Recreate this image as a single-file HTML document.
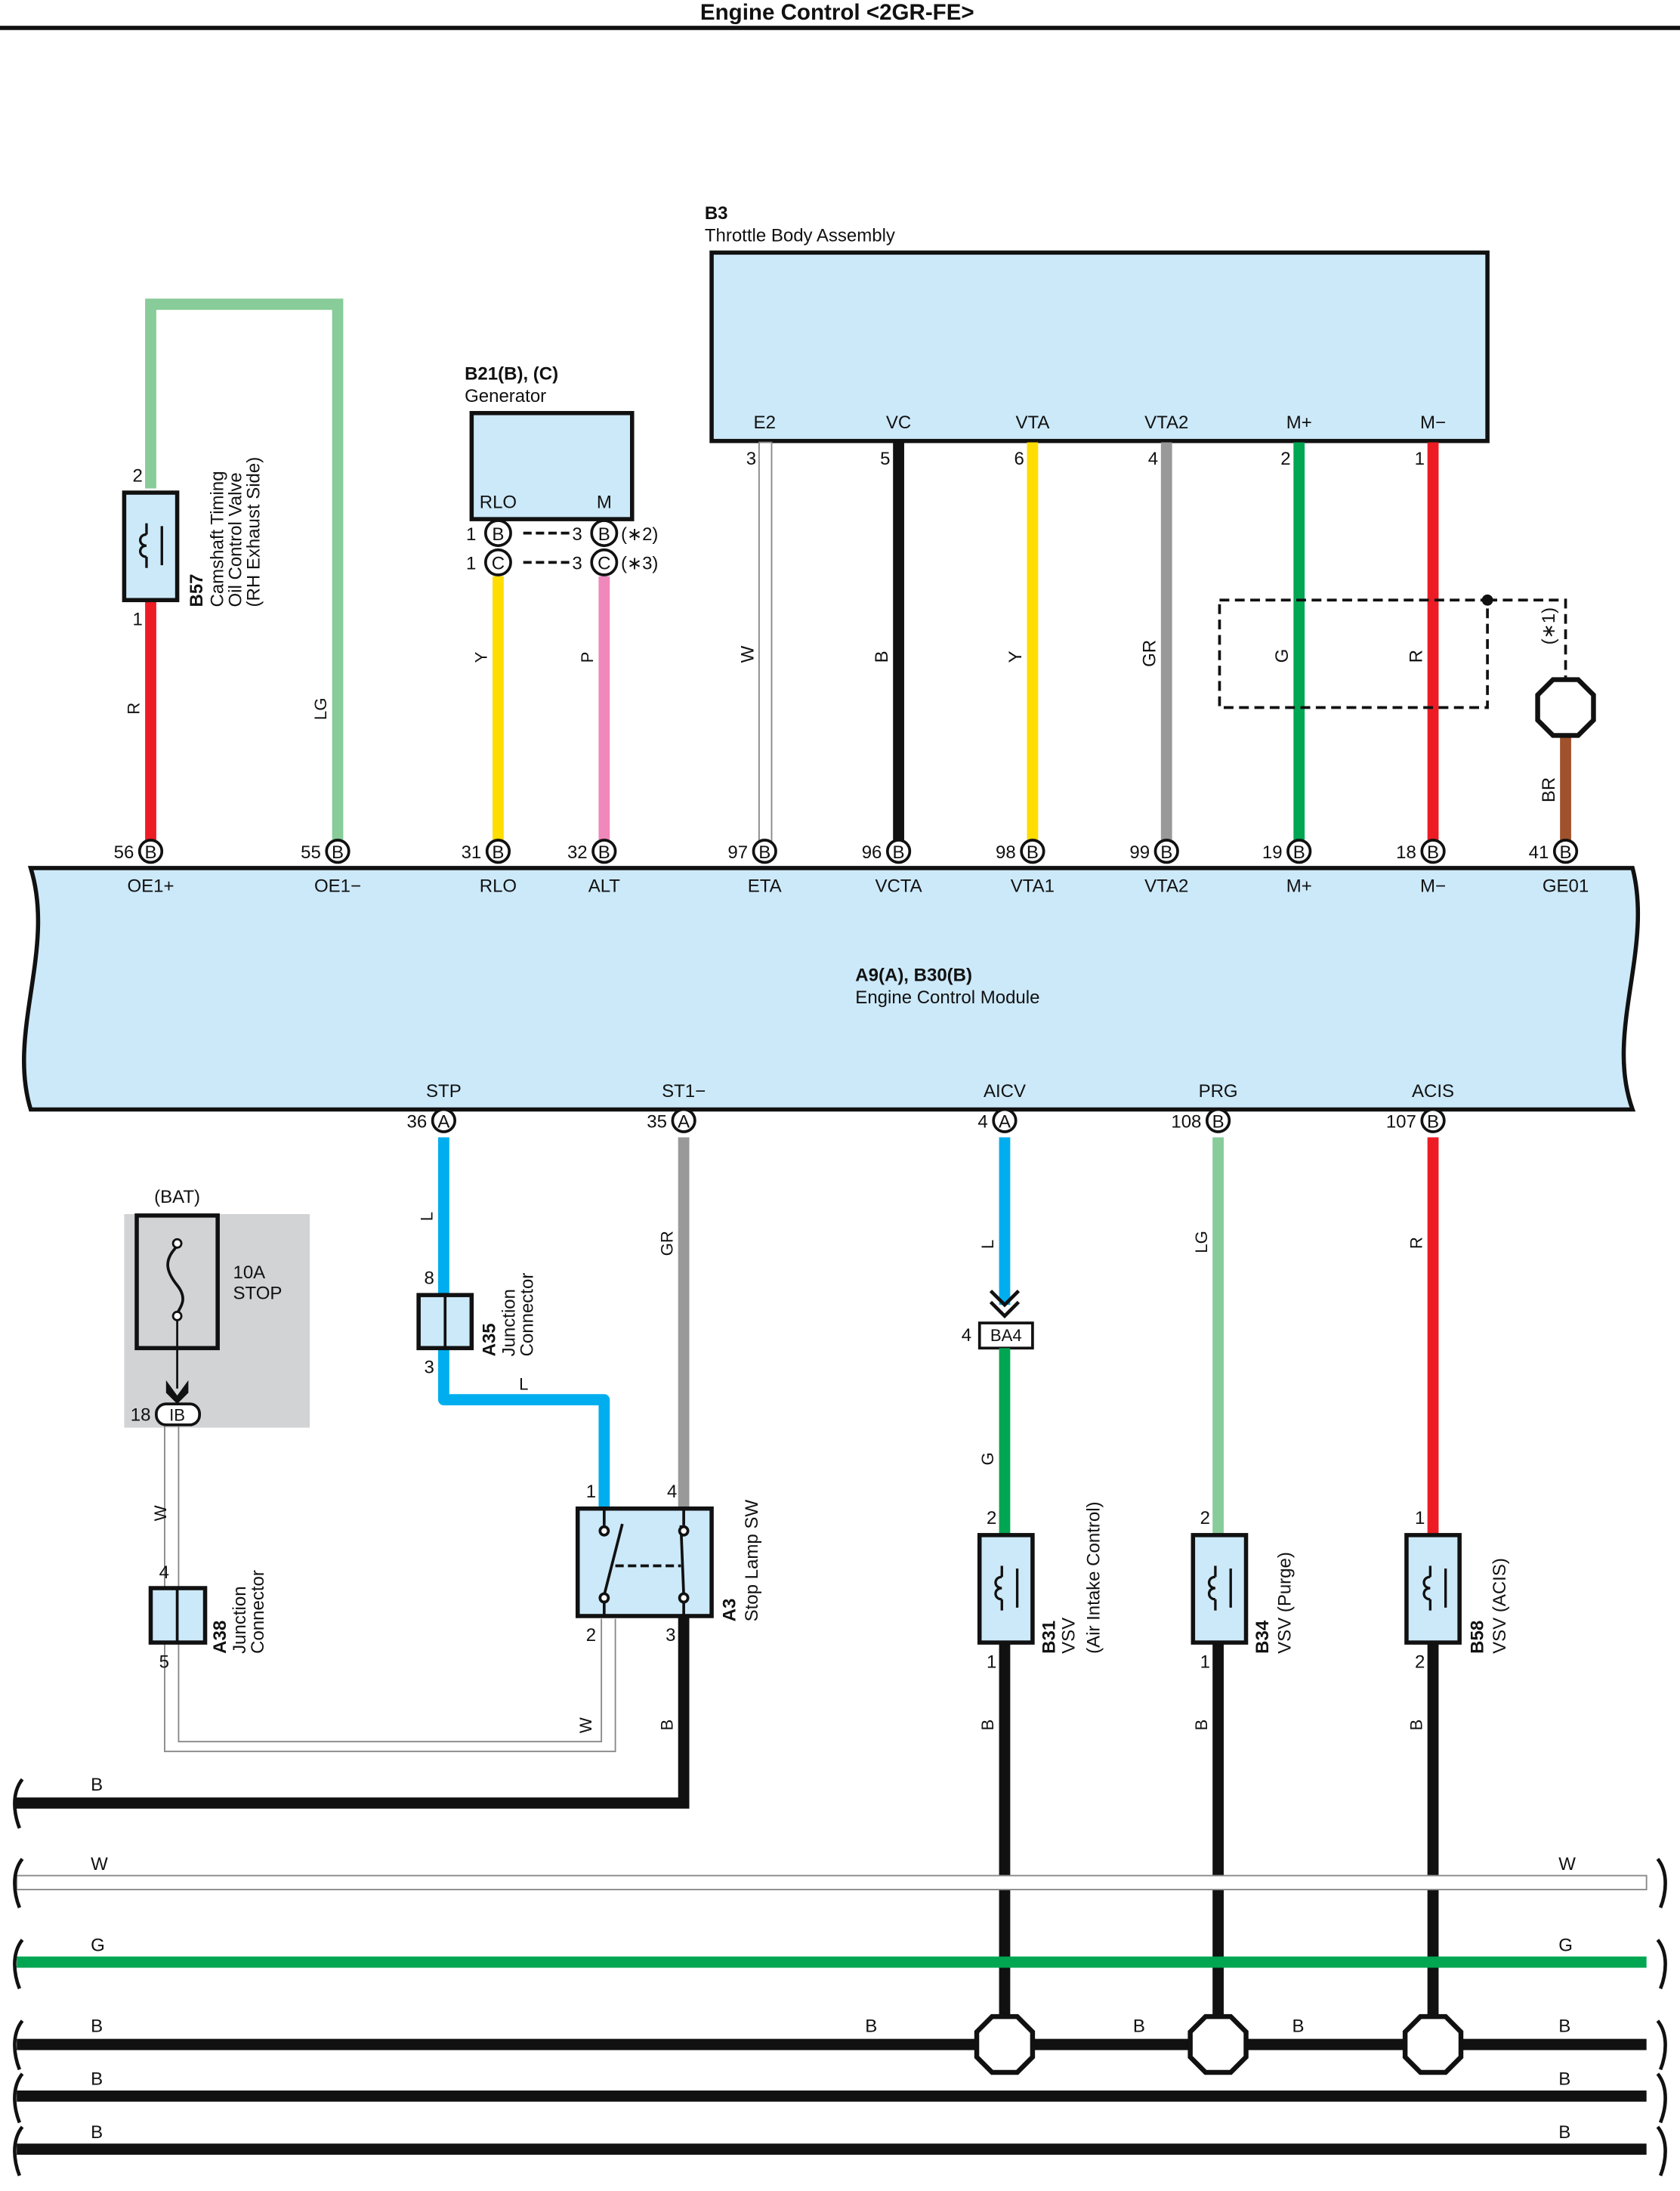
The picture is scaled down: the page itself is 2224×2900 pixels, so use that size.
<!DOCTYPE html>
<html><head><meta charset="utf-8"><style>
html,body{margin:0;padding:0;background:#fff}
svg{display:block}
text{font-family:"Liberation Sans",sans-serif;font-size:13px;fill:#111}
.b{font-weight:bold}
.s{font-size:12px}
</style></head><body>
<svg width="2224" height="2900" viewBox="0 0 1204 1570" preserveAspectRatio="none" xmlns="http://www.w3.org/2000/svg">
<defs>
<g id="coil"><path d="M-5,-8 c-6,0 -6,8 0,8 c-6,0 -6,8 0,8 M-5,-8 l0,-8 M-5,8 l0,8 M6,-14 l0,28" fill="none" stroke="#111" stroke-width="1.8"/></g>
<g id="oct"><polygon points="-9,-20 9,-20 20,-9 20,9 9,20 -9,20 -20,9 -20,-9" fill="#fff" stroke="#111" stroke-width="3.5"/></g>
</defs>
<text x="600" y="14" text-anchor="middle" class="b" style="font-size:16px">Engine Control &lt;2GR-FE&gt;</text>
<line x1="0" y1="20" x2="1204" y2="20" stroke="#111" stroke-width="3"/>

<text x="505" y="157" class="b">B3</text>
<text x="505" y="173">Throttle Body Assembly</text>
<rect x="510" y="181" width="556" height="135" fill="#cce9f9" stroke="#111" stroke-width="3"/>
<g text-anchor="middle">
<text x="548" y="307">E2</text><text x="644" y="307">VC</text><text x="740" y="307">VTA</text><text x="836" y="307">VTA2</text><text x="931" y="307">M+</text><text x="1027" y="307">M−</text>
</g>
<g text-anchor="end">
<text x="542" y="333">3</text><text x="638" y="333">5</text><text x="734" y="333">6</text><text x="830" y="333">4</text><text x="925" y="333">2</text><text x="1021" y="333">1</text>
</g>
<rect x="544" y="317" width="9" height="288" fill="#fff" stroke="#888" stroke-width="1"/>
<line x1="644" y1="317" x2="644" y2="603" stroke="#111" stroke-width="8"/>
<line x1="740" y1="317" x2="740" y2="603" stroke="#ffdd00" stroke-width="8"/>
<line x1="836" y1="317" x2="836" y2="603" stroke="#999" stroke-width="8"/>
<line x1="931" y1="317" x2="931" y2="603" stroke="#00a651" stroke-width="8"/>
<line x1="1027" y1="317" x2="1027" y2="603" stroke="#ed1c24" stroke-width="8"/>
<rect x="874" y="430" width="192" height="77" fill="none" stroke="#111" stroke-width="2" stroke-dasharray="7,4"/>
<circle cx="1066" cy="430" r="4" fill="#111"/>
<path d="M1066,430 H1122 V488" fill="none" stroke="#111" stroke-width="2" stroke-dasharray="7,4"/>
<line x1="1122" y1="527" x2="1122" y2="603" stroke="#a0522d" stroke-width="8"/>
<use href="#oct" x="1122" y="507"/>
<g class="s">
<text transform="translate(540,475) rotate(-90)">W</text>
<text transform="translate(636,475) rotate(-90)">B</text>
<text transform="translate(732,475) rotate(-90)">Y</text>
<text transform="translate(828,478) rotate(-90)">GR</text>
<text transform="translate(923,475) rotate(-90)">G</text>
<text transform="translate(1019,475) rotate(-90)">R</text>
<text transform="translate(1114,575) rotate(-90)">BR</text>
<text transform="translate(1114,462) rotate(-90)">(∗1)</text>
</g>

<path d="M108,350 V218 H242 V603" fill="none" stroke="#88cc99" stroke-width="8"/>
<line x1="108" y1="430" x2="108" y2="603" stroke="#ed1c24" stroke-width="8"/>
<rect x="89" y="353" width="38" height="77" fill="#cce9f9" stroke="#111" stroke-width="3"/>
<use href="#coil" x="110" y="391"/>
<text x="95" y="345">2</text><text x="95" y="448">1</text>
<text class="s" transform="translate(100,512) rotate(-90)">R</text>
<text class="s" transform="translate(234,516) rotate(-90)">LG</text>
<text class="b" transform="translate(145,435) rotate(-90)">B57</text>
<text transform="translate(160,435) rotate(-90)">Camshaft Timing</text>
<text transform="translate(173,435) rotate(-90)">Oil Control Valve</text>
<text transform="translate(186,435) rotate(-90)">(RH Exhaust Side)</text>

<text x="333" y="272" class="b">B21(B), (C)</text>
<text x="333" y="288">Generator</text>
<rect x="338" y="296" width="115" height="76" fill="#cce9f9" stroke="#111" stroke-width="3"/>
<text x="357" y="364" text-anchor="middle">RLO</text><text x="433" y="364" text-anchor="middle">M</text>
<line x1="357" y1="413" x2="357" y2="603" stroke="#ffdd00" stroke-width="8"/>
<line x1="433" y1="413" x2="433" y2="603" stroke="#f088bb" stroke-width="8"/>
<line x1="375" y1="382" x2="408" y2="382" stroke="#111" stroke-width="2" stroke-dasharray="6,3"/>
<line x1="375" y1="403" x2="408" y2="403" stroke="#111" stroke-width="2" stroke-dasharray="6,3"/>
<g stroke="#111" stroke-width="2" fill="#fff">
<circle cx="357" cy="382" r="9"/><circle cx="433" cy="382" r="9"/><circle cx="357" cy="403" r="9"/><circle cx="433" cy="403" r="9"/>
</g>
<g text-anchor="middle" class="s"><text x="357" y="387">B</text><text x="433" y="387">B</text><text x="357" y="408">C</text><text x="433" y="408">C</text></g>
<text x="334" y="387">1</text><text x="334" y="408">1</text><text x="410" y="387">3</text><text x="410" y="408">3</text>
<text x="445" y="387">(∗2)</text><text x="445" y="408">(∗3)</text>
<text class="s" transform="translate(349,475) rotate(-90)">Y</text>
<text class="s" transform="translate(425,475) rotate(-90)">P</text>

<path d="M22,622 H1170 C1185,680 1150,740 1170,795 H22 C5,740 40,680 22,622 Z" fill="#cce9f9" stroke="#111" stroke-width="3"/>
<text x="613" y="703" class="b">A9(A), B30(B)</text>
<text x="613" y="719">Engine Control Module</text>
<g stroke="#111" stroke-width="2" fill="#fff">
<circle cx="108" cy="610" r="8"/><circle cx="242" cy="610" r="8"/><circle cx="357" cy="610" r="8"/><circle cx="433" cy="610" r="8"/><circle cx="548" cy="610" r="8"/><circle cx="644" cy="610" r="8"/><circle cx="740" cy="610" r="8"/><circle cx="836" cy="610" r="8"/><circle cx="931" cy="610" r="8"/><circle cx="1027" cy="610" r="8"/><circle cx="1122" cy="610" r="8"/>
<circle cx="318" cy="803" r="8"/><circle cx="490" cy="803" r="8"/><circle cx="720" cy="803" r="8"/><circle cx="873" cy="803" r="8"/><circle cx="1027" cy="803" r="8"/>
</g>
<g text-anchor="middle" class="s">
<text x="108" y="615">B</text><text x="242" y="615">B</text><text x="357" y="615">B</text><text x="433" y="615">B</text><text x="548" y="615">B</text><text x="644" y="615">B</text><text x="740" y="615">B</text><text x="836" y="615">B</text><text x="931" y="615">B</text><text x="1027" y="615">B</text><text x="1122" y="615">B</text>
<text x="318" y="808">A</text><text x="490" y="808">A</text><text x="720" y="808">A</text><text x="873" y="808">B</text><text x="1027" y="808">B</text>
</g>
<g text-anchor="end">
<text x="96" y="615">56</text><text x="230" y="615">55</text><text x="345" y="615">31</text><text x="421" y="615">32</text><text x="536" y="615">97</text><text x="632" y="615">96</text><text x="728" y="615">98</text><text x="824" y="615">99</text><text x="919" y="615">19</text><text x="1015" y="615">18</text><text x="1110" y="615">41</text>
<text x="306" y="808">36</text><text x="478" y="808">35</text><text x="708" y="808">4</text><text x="861" y="808">108</text><text x="1015" y="808">107</text>
</g>
<g text-anchor="middle">
<text x="108" y="639">OE1+</text><text x="242" y="639">OE1−</text><text x="357" y="639">RLO</text><text x="433" y="639">ALT</text><text x="548" y="639">ETA</text><text x="644" y="639">VCTA</text><text x="740" y="639">VTA1</text><text x="836" y="639">VTA2</text><text x="931" y="639">M+</text><text x="1027" y="639">M−</text><text x="1122" y="639">GE01</text>
<text x="318" y="786">STP</text><text x="490" y="786">ST1−</text><text x="720" y="786">AICV</text><text x="873" y="786">PRG</text><text x="1027" y="786">ACIS</text>
</g>

<rect x="89" y="870" width="133" height="153" fill="#d2d3d5"/>
<text x="127" y="862" text-anchor="middle">(BAT)</text>
<rect x="98" y="871" width="58" height="95" fill="#d2d3d5" stroke="#111" stroke-width="3"/>
<path d="M127,893 c-10,10 -8,18 0,28 c8,10 2,16 0,20" fill="none" stroke="#111" stroke-width="2"/>
<circle cx="127" cy="891" r="3" fill="#fff" stroke="#111" stroke-width="1.5"/><circle cx="127" cy="943" r="3" fill="#fff" stroke="#111" stroke-width="1.5"/>
<line x1="127" y1="946" x2="127" y2="995" stroke="#111" stroke-width="1.5"/>
<path d="M119,989 L127,1000 L135,989 L135,998 L127,1006 L119,998 Z" fill="#111"/>
<text x="167" y="916">10A</text><text x="167" y="931">STOP</text>
<rect x="112" y="1006" width="31" height="15" rx="7" fill="#fff" stroke="#111" stroke-width="2"/>
<text x="127" y="1018" text-anchor="middle" class="s">IB</text>
<text x="108" y="1018" text-anchor="end">18</text>
<path d="M118,1022 V1255 H441 V1160 M128,1022 V1248 H431 V1160" fill="none" stroke="#888" stroke-width="1"/>
<rect x="108" y="1138" width="39" height="39" fill="#cce9f9" stroke="#111" stroke-width="3"/>
<line x1="127" y1="1138" x2="127" y2="1177" stroke="#111" stroke-width="2"/>
<text x="114" y="1131">4</text><text x="114" y="1195">5</text>
<text class="s" transform="translate(119,1090) rotate(-90)">W</text>
<text class="b" transform="translate(162,1185) rotate(-90)">A38</text>
<text transform="translate(176,1185) rotate(-90)">Junction</text>
<text transform="translate(189,1185) rotate(-90)">Connector</text>

<path d="M318,815 V1003 H433 V1080" fill="none" stroke="#00aeef" stroke-width="8" stroke-linejoin="round"/>
<rect x="300" y="928" width="38" height="38" fill="#cce9f9" stroke="#111" stroke-width="3"/>
<line x1="319" y1="928" x2="319" y2="966" stroke="#111" stroke-width="2"/>
<text x="304" y="920">8</text><text x="304" y="984">3</text>
<text class="s" transform="translate(310,875) rotate(-90)">L</text>
<text x="372" y="996" class="s">L</text>
<text class="b" transform="translate(355,972) rotate(-90)">A35</text>
<text transform="translate(369,972) rotate(-90)">Junction</text>
<text transform="translate(382,972) rotate(-90)">Connector</text>
<line x1="490" y1="815" x2="490" y2="1080" stroke="#999" stroke-width="8"/>
<text class="s" transform="translate(482,900) rotate(-90)">GR</text>
<rect x="414" y="1081" width="96" height="77" fill="#cce9f9" stroke="#111" stroke-width="3"/>
<g stroke="#111" stroke-width="2" fill="#fff">
<line x1="433" y1="1081" x2="433" y2="1093"/><line x1="490" y1="1081" x2="490" y2="1093"/>
<line x1="433" y1="1148" x2="433" y2="1158"/><line x1="490" y1="1148" x2="490" y2="1158"/>
<line x1="433" y1="1143" x2="446" y2="1092"/><line x1="488" y1="1093" x2="490" y2="1143"/>
<line x1="441" y1="1122" x2="488" y2="1122" stroke-dasharray="6,3"/>
<circle cx="433" cy="1097" r="3"/><circle cx="490" cy="1097" r="3"/><circle cx="433" cy="1145" r="3"/><circle cx="490" cy="1145" r="3"/>
</g>
<text x="420" y="1073">1</text><text x="478" y="1073">4</text><text x="420" y="1176">2</text><text x="477" y="1176">3</text>
<text class="b" transform="translate(527,1162) rotate(-90)">A3</text>
<text transform="translate(543,1162) rotate(-90)">Stop Lamp SW</text>
<path d="M490,1158 V1292 H10" fill="none" stroke="#111" stroke-width="8"/>
<text class="s" transform="translate(424,1242) rotate(-90)">W</text>
<text class="s" transform="translate(482,1240) rotate(-90)">B</text>

<line x1="720" y1="815" x2="720" y2="935" stroke="#00aeef" stroke-width="8"/>
<path d="M710,925 L720,935 L730,925 M710,933 L720,943 L730,933" fill="none" stroke="#111" stroke-width="2.5"/>
<rect x="702" y="948" width="38" height="18" fill="#fff" stroke="#111" stroke-width="2"/>
<text x="721" y="961" text-anchor="middle" class="s">BA4</text>
<text x="689" y="961">4</text>
<line x1="720" y1="966" x2="720" y2="1100" stroke="#00a651" stroke-width="8"/>
<text class="s" transform="translate(712,895) rotate(-90)">L</text>
<text class="s" transform="translate(712,1050) rotate(-90)">G</text>
<line x1="873" y1="815" x2="873" y2="1100" stroke="#88cc99" stroke-width="8"/>
<text class="s" transform="translate(865,898) rotate(-90)">LG</text>
<line x1="1027" y1="815" x2="1027" y2="1100" stroke="#ed1c24" stroke-width="8"/>
<text class="s" transform="translate(1019,895) rotate(-90)">R</text>
<g stroke="#111" stroke-width="8">
<line x1="720" y1="1177" x2="720" y2="1445"/><line x1="873" y1="1177" x2="873" y2="1445"/><line x1="1027" y1="1177" x2="1027" y2="1445"/>
</g>
<g fill="#cce9f9" stroke="#111" stroke-width="3">
<rect x="702" y="1100" width="38" height="77"/><rect x="855" y="1100" width="38" height="77"/><rect x="1008" y="1100" width="38" height="77"/>
</g>
<use href="#coil" x="723" y="1138"/><use href="#coil" x="876" y="1138"/><use href="#coil" x="1030" y="1138"/>
<text x="707" y="1092">2</text><text x="707" y="1195">1</text>
<text x="860" y="1092">2</text><text x="860" y="1195">1</text>
<text x="1014" y="1092">1</text><text x="1014" y="1195">2</text>
<text class="b" transform="translate(756,1185) rotate(-90)">B31</text>
<text transform="translate(770,1185) rotate(-90)">VSV</text>
<text transform="translate(788,1185) rotate(-90)">(Air Intake Control)</text>
<text class="b" transform="translate(909,1185) rotate(-90)">B34</text>
<text transform="translate(925,1185) rotate(-90)">VSV (Purge)</text>
<text class="b" transform="translate(1063,1185) rotate(-90)">B58</text>
<text transform="translate(1079,1185) rotate(-90)">VSV (ACIS)</text>
<text class="s" transform="translate(712,1240) rotate(-90)">B</text>
<text class="s" transform="translate(865,1240) rotate(-90)">B</text>
<text class="s" transform="translate(1019,1240) rotate(-90)">B</text>

<rect x="12" y="1344" width="1168" height="10" fill="#fff" stroke="#888" stroke-width="1"/>
<line x1="12" y1="1406" x2="1180" y2="1406" stroke="#00a651" stroke-width="8"/>
<line x1="12" y1="1465" x2="1180" y2="1465" stroke="#111" stroke-width="8"/>
<line x1="12" y1="1502" x2="1180" y2="1502" stroke="#111" stroke-width="8"/>
<line x1="12" y1="1540" x2="1180" y2="1540" stroke="#111" stroke-width="8"/>
<g fill="none" stroke="#111" stroke-width="2.5">
<path d="M16,1275 C8,1285 10,1300 14,1310"/>
<path d="M16,1332 C8,1342 10,1357 14,1367"/><path d="M1188,1332 C1196,1342 1194,1357 1190,1367"/>
<path d="M16,1390 C8,1400 10,1415 14,1425"/><path d="M1188,1390 C1196,1400 1194,1415 1190,1425"/>
<path d="M16,1448 C8,1458 10,1473 14,1483"/><path d="M1188,1448 C1196,1458 1194,1473 1190,1483"/>
<path d="M16,1486 C8,1496 10,1511 14,1521"/><path d="M1188,1486 C1196,1496 1194,1511 1190,1521"/>
<path d="M16,1524 C8,1534 10,1549 14,1559"/><path d="M1188,1524 C1196,1534 1194,1549 1190,1559"/>
</g>
<use href="#oct" x="720" y="1465"/><use href="#oct" x="873" y="1465"/><use href="#oct" x="1027" y="1465"/>
<g class="s">
<text x="65" y="1283">B</text>
<text x="65" y="1340">W</text><text x="1117" y="1340">W</text>
<text x="65" y="1398">G</text><text x="1117" y="1398">G</text>
<text x="65" y="1456">B</text><text x="620" y="1456">B</text><text x="812" y="1456">B</text><text x="926" y="1456">B</text><text x="1117" y="1456">B</text>
<text x="65" y="1494">B</text><text x="1117" y="1494">B</text>
<text x="65" y="1532">B</text><text x="1117" y="1532">B</text>
</g>
</svg>
</body></html>
